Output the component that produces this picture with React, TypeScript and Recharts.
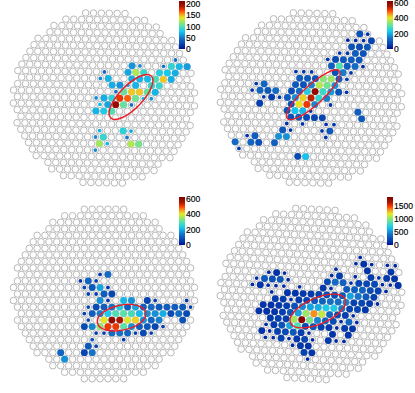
import React from "react";
import { ScatterChart, Scatter, XAxis, YAxis, ReferenceDot, BarChart, Bar } from "recharts";

type Lit = number[];

// camera layout: half-width of every pixel row, in half pitches
const rowHalfWidths = [5,10,13,14,17,18,19,20,21,22,21,22,23,22,23,22,21,22,21,20,19,18,17,14,13,10,5];

// [row, column, charge]
const p1Large: Lit[] = [[8,7,60],[8,17,88],[8,19,72],[8,21,62],[9,6,65],[9,8,125],[9,10,90],[9,14,82],[9,16,78],[9,18,68],[10,1,70],[10,7,68],[10,9,70],[10,11,72],[10,13,98],[10,15,145],[10,17,68],[11,2,68],[11,4,60],[11,8,70],[11,12,88],[11,14,90],[12,5,105],[12,7,145],[12,9,145],[12,11,105],[12,13,70],[13,0,68],[13,2,85],[13,4,175],[13,6,165],[13,8,108],[14,1,65],[14,3,200],[14,5,105],[15,-2,70],[15,0,80],[15,2,100],[18,5,85],[19,0,90],[20,-1,122],[20,7,125],[20,9,110]];
const p1Small: Lit[] = [[7,18,45],[8,9,55],[8,15,50],[9,0,40],[10,-1,55],[11,6,65],[12,3,45],[13,-2,55],[13,10,72],[13,12,60],[14,-1,72],[14,7,45],[18,-1,70],[18,7,65],[19,-2,55],[19,6,50],[20,1,70],[21,-2,55]];

const p2Large: Lit[] = [[3,12,90],[4,15,70],[5,10,90],[5,12,80],[5,14,100],[6,11,110],[6,13,90],[7,6,80],[7,8,100],[7,10,110],[7,12,100],[8,5,110],[8,7,290],[8,9,110],[8,11,130],[9,6,90],[9,8,150],[10,-3,110],[10,-1,100],[10,1,90],[10,3,340],[10,5,350],[10,7,110],[11,-12,120],[11,-4,100],[11,-2,90],[11,0,160],[11,2,370],[11,4,320],[11,6,170],[12,-13,120],[12,-11,100],[12,-9,130],[12,-5,90],[12,-3,130],[12,-1,240],[12,1,600],[12,3,270],[12,5,180],[12,7,90],[13,-10,60],[13,-6,110],[13,-4,170],[13,-2,420],[13,0,540],[13,2,260],[13,4,150],[14,-13,60],[14,-5,90],[14,-3,410],[14,-1,510],[14,1,160],[15,-6,90],[15,-4,220],[15,-2,210],[15,12,110],[16,-5,90],[16,-3,110],[16,-1,80],[16,1,70],[16,3,70],[16,13,100],[18,-7,100],[18,5,100],[19,-14,110],[19,-8,170],[19,-6,170],[20,-19,130],[20,-15,120],[20,-13,90],[20,-9,110],[22,-3,80],[22,-1,220]];
const p2Small: Lit[] = [[3,14,40],[4,9,30],[4,11,30],[4,13,30],[6,7,40],[6,9,40],[7,4,40],[8,13,30],[9,-4,40],[9,-2,50],[9,0,40],[9,10,40],[10,9,50],[11,-14,50],[12,-15,40],[12,9,40],[13,-12,40],[13,-8,50],[14,5,40],[15,0,40],[17,-6,40],[17,-2,40],[17,4,40],[17,6,40],[18,-5,40],[18,3,40],[19,-16,40],[19,4,40],[21,-18,50]];

const p3Large: Lit[] = [[10,1,130],[11,-4,120],[12,-3,100],[12,-1,190],[13,0,110],[13,2,70],[14,-1,170],[14,5,210],[14,7,170],[14,11,70],[15,-2,80],[15,0,110],[15,2,140],[15,4,240],[15,6,110],[15,8,190],[15,10,110],[15,12,130],[15,14,100],[15,16,110],[15,18,110],[15,20,100],[16,-3,110],[16,-1,150],[16,1,230],[16,3,290],[16,5,300],[16,7,280],[16,9,210],[16,11,170],[16,13,170],[16,15,200],[16,17,80],[16,19,130],[16,21,80],[17,0,400],[17,2,590],[17,4,560],[17,6,400],[17,8,420],[17,10,170],[17,12,120],[17,14,150],[17,20,90],[18,-5,80],[18,-3,160],[18,-1,340],[18,1,510],[18,3,510],[18,5,300],[18,7,170],[18,9,110],[18,11,100],[18,13,70],[19,2,130],[19,4,140],[19,6,120],[19,10,80],[21,-4,100],[22,-11,120],[22,-5,70],[22,-3,140],[23,-10,170]];
const p3Small: Lit[] = [[10,-1,50],[11,-6,50],[11,-2,50],[12,-5,70],[12,1,50],[13,-4,60],[13,-2,60],[14,1,50],[14,13,60],[14,21,50],[15,-4,70],[15,22,60],[16,-5,60],[17,-4,70],[18,15,60],[19,-2,50],[19,0,60],[19,8,60],[19,12,60],[20,-3,90],[20,5,60],[21,-2,70]];

const p4Large: Lit[] = [[8,13,130],[9,14,130],[9,20,140],[10,-9,120],[10,7,170],[10,15,170],[10,19,150],[10,21,130],[11,-12,300],[11,-10,250],[11,-8,280],[11,4,230],[11,6,380],[11,8,330],[11,12,210],[11,14,220],[11,16,230],[11,22,130],[12,-13,130],[12,3,150],[12,9,300],[12,11,320],[12,13,350],[12,15,240],[12,17,200],[13,-6,130],[13,-4,130],[13,-2,150],[13,0,160],[13,2,200],[13,4,250],[13,6,260],[13,8,300],[13,10,560],[13,12,420],[13,14,300],[13,16,190],[14,-9,170],[14,-7,160],[14,-3,170],[14,-1,200],[14,1,300],[14,3,340],[14,5,400],[14,7,400],[14,9,470],[14,11,200],[14,13,220],[14,15,150],[15,-12,130],[15,-10,120],[15,-8,150],[15,-6,170],[15,-4,260],[15,-2,480],[15,0,560],[15,2,590],[15,4,680],[15,6,690],[15,8,440],[15,10,200],[15,12,220],[15,14,140],[16,-13,130],[16,-11,120],[16,-9,130],[16,-7,180],[16,-5,280],[16,-3,560],[16,-1,1030],[16,1,1350],[16,3,1120],[16,5,350],[16,7,250],[16,9,180],[17,-10,150],[17,-8,200],[17,-6,170],[17,-4,1050],[17,-2,1800],[17,0,950],[17,2,460],[17,4,350],[17,6,240],[17,10,350],[18,-9,160],[18,-7,260],[18,-5,570],[18,-3,850],[18,-1,220],[18,1,280],[18,3,190],[18,5,150],[18,9,160],[18,11,140],[19,-12,130],[19,-8,200],[19,-6,230],[19,-4,300],[19,-2,170],[19,6,130],[19,10,130],[20,-7,200],[20,-3,150],[20,-1,200],[20,5,150],[21,-2,150],[21,0,120],[22,-1,200],[22,1,140]];
const p4Small: Lit[] = [[7,12,90],[8,11,90],[8,15,90],[8,19,90],[8,21,90],[9,6,90],[10,-11,90],[10,-7,90],[10,5,90],[10,11,90],[10,17,90],[11,-14,90],[11,-6,90],[11,10,100],[11,18,90],[11,20,90],[12,-15,90],[12,-11,90],[12,-9,90],[12,-7,90],[12,-3,90],[12,5,100],[12,19,90],[13,-10,90],[14,-5,100],[14,17,90],[16,11,90],[17,8,90],[17,12,90],[18,-11,90],[18,7,90],[19,-10,90],[19,0,90],[20,-11,90],[20,-9,90],[20,-5,90],[20,1,90],[20,7,90],[20,9,90],[21,-4,90],[23,0,90]];

const p1Ticks = [0, 50, 100, 150, 200];
const p2Ticks = [0, 200, 400, 600];
const p3Ticks = [0, 200, 400, 600];
const p4Ticks = [0, 500, 1000, 1500];

const colourStops: [number, string][] = [[0,"#00108c"],[0.06,"#0030a8"],[0.22,"#1470c8"],[0.36,"#14c8f0"],[0.47,"#50e0b0"],[0.57,"#a0e860"],[0.65,"#e8e820"],[0.72,"#f5a020"],[0.8,"#ff4000"],[0.88,"#b01800"],[1,"#800000"]];

const COL = 7.87, ROW = 6.52;
const hex = (c: string) => [1, 3, 5].map((i) => parseInt(c.slice(i, i + 2), 16));
function colourOf(t: number) {
  const v = Math.max(0, Math.min(1, t));
  for (let i = 1; i < colourStops.length; i++) {
    const [a, ca] = colourStops[i - 1];
    const [b, cb] = colourStops[i];
    if (v <= b) {
      const f = (v - a) / (b - a);
      const A = hex(ca), B = hex(cb);
      return `rgb(${A.map((x, k) => Math.round(x + (B[k] - x) * f)).join(",")})`;
    }
  }
  return colourStops[colourStops.length - 1][1];
}

function place(row: number, col: number, deg: number) {
  const t = (deg * Math.PI) / 180;
  const X = (col / 2) * COL, Y = (row - 13) * ROW;
  return { x: X * Math.cos(t) - Y * Math.sin(t), y: X * Math.sin(t) + Y * Math.cos(t) };
}

const allPixels: [number, number][] = rowHalfWidths.flatMap((h, r) => {
  const out: [number, number][] = [];
  for (let c = -h; c <= h; c += 2) out.push([r, c]);
  return out;
});

const sansFont = "'Liberation Sans', Arial, sans-serif";

interface PanelSpec {
  id: string; cx: number; cy: number; deg: number; large: Lit[]; small: Lit[];
  max: number; ticks: number[]; barLeft: number; barTop: number;
  ell: number[]; // centre x, centre y, semi axes, angle
}

const panels: PanelSpec[] = [
  { id: "a", cx: 103.7, cy: 98, deg: 0.9, large: p1Large, small: p1Small, max: 213, ticks: p1Ticks, barLeft: 179, barTop: 1, ell: [27, -1, 29.2, 11.5, -46] },
  { id: "b", cx: 311, cy: 98, deg: 1.4, large: p2Large, small: p2Small, max: 625, ticks: p2Ticks, barLeft: 387, barTop: 1, ell: [2.3, -3.3, 35.2, 9.8, -42.5] },
  { id: "c", cx: 103.7, cy: 294.3, deg: 0, large: p3Large, small: p3Small, max: 625, ticks: p3Ticks, barLeft: 179, barTop: 197, ell: [17.5, 23.7, 24.7, 12.5, -12] },
  { id: "d", cx: 311, cy: 294, deg: 3, large: p4Large, small: p4Small, max: 1840, ticks: p4Ticks, barLeft: 387, barTop: 197, ell: [6.8, 17, 29.9, 13, -23.6] },
];

const dot = (r: number, max: number) => (p: any) => {
  const v = p.v ?? p.payload?.v ?? 0;
  return <circle cx={p.cx} cy={p.cy} r={r} fill={colourOf(v / max)} />;
};
const emptyDot = (p: any) => <circle cx={p.cx} cy={p.cy} r={3.3} fill="#ffffff" stroke="#b8b8b8" strokeWidth={1} />;

function Camera({ s }: { s: PanelSpec }) {
  const toPts = (list: Lit[]) => list.map(([r, c, v]) => ({ ...place(r, c, s.deg), v }));
  const gridPts = allPixels.map(([r, c]) => place(r, c, s.deg));
  const [ex, ey, ea, eb, ang] = s.ell;
  return (
    <div style={{ position: "absolute", left: s.cx - 104, top: s.cy - 98 }}>
      <ScatterChart width={208} height={196} margin={{ top: 0, right: 0, bottom: 0, left: 0 }}>
        <XAxis type="number" dataKey="x" domain={[-104, 104]} hide />
        <YAxis type="number" dataKey="y" domain={[-98, 98]} reversed hide />
        <Scatter data={gridPts} isAnimationActive={false} shape={emptyDot} />
        <Scatter data={toPts(s.large)} isAnimationActive={false} shape={dot(3.4, s.max)} />
        <Scatter data={toPts(s.small)} isAnimationActive={false} shape={dot(1.9, s.max)} />
        <ReferenceDot
          x={ex}
          y={ey}
          shape={(p: any) => (
            <ellipse cx={p.cx} cy={p.cy} rx={ea} ry={eb} fill="none" stroke="#ee1c25" strokeWidth={1.4}
              transform={`rotate(${ang} ${p.cx} ${p.cy})`} />
          )}
        />
      </ScatterChart>
    </div>
  );
}

function ColourBar({ s }: { s: PanelSpec }) {
  const gid = `grad-${s.id}`;
  return (
    <div style={{ position: "absolute", left: s.barLeft, top: s.barTop - 10 }}>
      <svg width={0} height={0} style={{ position: "absolute" }}>
        <defs>
          <linearGradient id={gid} x1="0" y1="1" x2="0" y2="0">
            {colourStops.map(([o, c]) => <stop key={o} offset={o} stopColor={c} />)}
          </linearGradient>
        </defs>
      </svg>
      <BarChart width={30} height={68} data={[{ k: "c", v: s.max }]} margin={{ top: 10, right: 0, bottom: 10, left: 0 }} barCategoryGap={0}>
        <XAxis dataKey="k" hide />
        <YAxis orientation="right" width={24} type="number" domain={[0, s.max]} ticks={s.ticks} interval={0}
          axisLine={false} tickLine={false} tickMargin={1} tickSize={0}
          tick={{ fontSize: 8.6, fill: "#000", fontFamily: sansFont, stroke: "#000", strokeWidth: 0.15 }} />
        <Bar dataKey="v" fill={`url(#${gid})`} isAnimationActive={false} />
      </BarChart>
    </div>
  );
}

export default function App() {
  return (
    <div style={{ position: "absolute", left: 0, top: 0, width: 415, height: 393, background: "#fff", overflow: "hidden" }}>
      {panels.map((s) => <Camera key={s.id} s={s} />)}
      {panels.map((s) => <ColourBar key={s.id} s={s} />)}
    </div>
  );
}
